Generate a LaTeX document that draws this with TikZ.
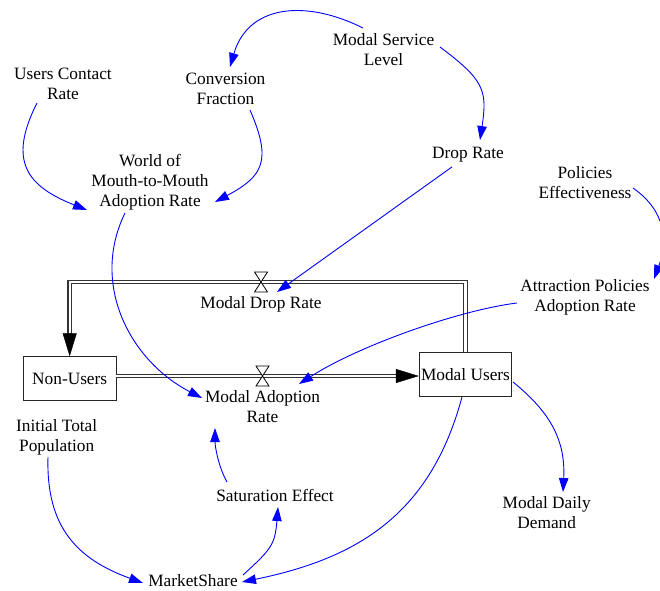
\documentclass[tikz,border=0pt]{standalone}
\usepackage{fontspec}
\setmainfont{Liberation Serif}
\usetikzlibrary{arrows.meta}
\definecolor{linkblue}{RGB}{0,0,255}
\begin{document}
\begin{tikzpicture}[x=1pt,y=-1pt,
  lbl/.style={align=center, inner sep=2pt, font=\fontsize{17.3}{20}\selectfont},
  stock/.style={draw=black!85, line width=0.9pt, inner sep=0pt,
    minimum width=92.5pt, minimum height=44pt, font=\fontsize{17.3}{20}\selectfont},
  pipe/.style={draw=black!80, line width=1.1pt, double=white, double distance=2.4pt},
  pipehead/.style={draw=black, line width=0.4pt, -{Triangle[length=23pt,width=14pt]}},
  link/.style={draw=linkblue, line width=0.9pt, -{Triangle[length=14pt,width=9.5pt]}},
  valve/.pic={\filldraw[fill=white, draw=black, line width=0.8pt]
    (-6.5,-10) -- (6.5,-10) -- (-6.5,10) -- (6.5,10) -- cycle;}
]
\useasboundingbox (0,0) rectangle (660,590);

% stocks
\node[stock] (nu) at (69.7,378.7) {Non-Users};
\node[stock] (mu) at (465.5,374.2) {Modal Users};

% valve positions
\coordinate (vdrop) at (261,282);
\coordinate (vadopt) at (262.5,376);
\coordinate (aend) at (vadopt -| mu.west);

% flow pipes
\draw[pipe] (mu.north) |- (vdrop) -| ([yshift=20pt]nu.north);
\draw[pipehead] ([yshift=23pt]nu.north) -- (nu.north);
\draw[pipe] (vadopt -| nu.east) -- ([xshift=-20pt]aend);
\draw[pipehead] ([xshift=-23pt]aend) -- (aend);

% valves
\path (vdrop) pic {valve};
\path (vadopt) pic {valve};

% auxiliary variables
\node[lbl] (ucr)  at (63,84)      {Users Contact\\Rate};
\node[lbl] (cf)   at (225.5,89)   {Conversion\\Fraction};
\node[lbl] (msl)  at (383.5,50)   {Modal Service\\Level};
\node[lbl] (wom)  at (150,182)    {World of\\Mouth-to-Mouth\\Adoption Rate};
\node[lbl] (dr)   at (468,154.9)  {Drop Rate};
\node[lbl] (pe)   at (585,183)    {Policies\\Effectiveness};
\node[lbl] (apar) at (585,297)    {Attraction Policies\\Adoption Rate};
\node[lbl] (mdr)  at (261,304.5)  {Modal Drop Rate};
\node[lbl] (mar)  at (262.5,407)  {Modal Adoption\\Rate};
\node[lbl] (itp)  at (56.7,437)   {Initial Total\\Population};
\node[lbl] (se)   at (275,495)    {Saturation Effect};
\node[lbl] (mdd)  at (546.7,513)  {Modal Daily\\Demand};
\node[lbl] (ms)   at (193,581)    {MarketShare};

% information links
\draw[link] ([shift={(-20.5,-22)}]msl.center) .. controls +(-58,-29) and +(18,-62) .. ([shift={(4.5,-22)}]cf.center);
\draw[link] ([shift={(56.5,-3)}]msl.center) .. controls +(44,33) and +(7.5,-50) .. ([shift={(12,-14.9)}]dr.center);
\draw[link] ([shift={(24.5,21)}]cf.center) .. controls +(22,50.6) and +(48.4,-25.9) .. ([shift={(65,20)}]wom.center);
\draw[link] ([shift={(-26,19)}]ucr.center) .. controls +(-29.3,57.9) and +(-60.5,-24) .. ([shift={(-63,28)}]wom.center);
\draw[link] ([shift={(-16,12)}]dr.center) -- ([shift={(16,-12.5)}]mdr.center);
\draw[link] ([shift={(-25,31)}]wom.center) .. controls +(-35.2,72) and +(-71.2,-36.8) .. ([shift={(-60.5,-9)}]mar.center);
\draw[link] ([shift={(-68,6)}]apar.center) .. controls +(-57,7) and +(61,-39) .. ([shift={(36.5,-23)}]mar.center);
\draw[link] ([shift={(48,5)}]pe.center) .. controls +(32.8,22.8) and +(14,-37.6) .. ([shift={(69,-18)}]apar.center);
\draw[link] ([shift={(47.5,7.8)}]mu.center) .. controls +(39,31.5) and +(2.5,-50) .. ([shift={(16.3,-21)}]mdd.center);
\draw[link] ([shift={(-3.5,22.8)}]mu.center) .. controls +(-31.2,115.8) and +(117.6,-24) .. ([shift={(49,1)}]ms.center);
\draw[link] ([shift={(-8.7,20)}]itp.center) .. controls +(-2.1,70) and +(-65.8,-23.8) .. ([shift={(-50,2)}]ms.center);
\draw[link] ([shift={(50,-6)}]ms.center) .. controls +(28.1,-25.8) and +(-3,38) .. ([shift={(3,12)}]se.center);
\draw[link] ([shift={(-48,-13)}]se.center) .. controls +(-8.8,-15.7) and +(0,18) .. ([shift={(-47.5,21)}]mar.center);
\end{tikzpicture}
\end{document}
